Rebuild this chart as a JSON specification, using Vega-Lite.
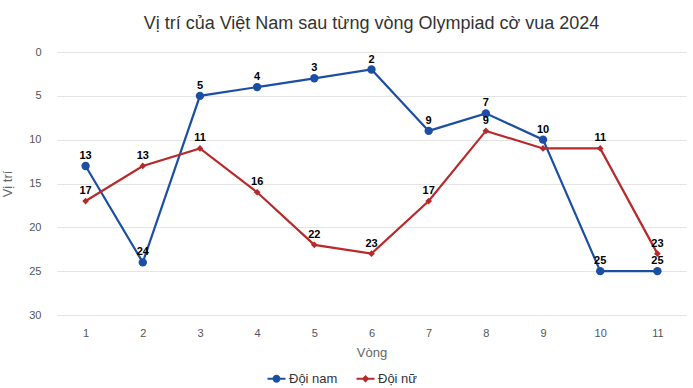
{
  "$schema": "https://vega.github.io/schema/vega-lite/v6.json",
  "width": 629,
  "height": 263,
  "autosize": {"type": "none"},
  "padding": {"left": 57, "top": 52, "right": 7, "bottom": 73},
  "background": "white",
  "config": {
    "font": "Liberation Sans",
    "view": {"stroke": null},
    "legend": {
      "orient": "none",
      "legendX": 213,
      "legendY": 320,
      "direction": "horizontal",
      "title": null,
      "labelFontSize": 13,
      "labelColor": "#333333",
      "labelOffset": 6,
      "symbolSize": 100,
      "symbolStrokeWidth": 0,
      "symbolOpacity": 1,
      "columnPadding": 18
    }
  },
  "title": {
    "text": "Vị trí của Việt Nam sau từng vòng Olympiad cờ vua 2024",
    "fontSize": 18,
    "fontWeight": "normal",
    "color": "#333333",
    "anchor": "middle",
    "offset": 13
  },
  "data": {
    "values": [
      {"vong": 1, "doi": "Đội nam", "vitri": 13},
      {"vong": 2, "doi": "Đội nam", "vitri": 24},
      {"vong": 3, "doi": "Đội nam", "vitri": 5},
      {"vong": 4, "doi": "Đội nam", "vitri": 4},
      {"vong": 5, "doi": "Đội nam", "vitri": 3},
      {"vong": 6, "doi": "Đội nam", "vitri": 2},
      {"vong": 7, "doi": "Đội nam", "vitri": 9},
      {"vong": 8, "doi": "Đội nam", "vitri": 7},
      {"vong": 9, "doi": "Đội nam", "vitri": 10},
      {"vong": 10, "doi": "Đội nam", "vitri": 25},
      {"vong": 11, "doi": "Đội nam", "vitri": 25},
      {"vong": 1, "doi": "Đội nữ", "vitri": 17},
      {"vong": 2, "doi": "Đội nữ", "vitri": 13},
      {"vong": 3, "doi": "Đội nữ", "vitri": 11},
      {"vong": 4, "doi": "Đội nữ", "vitri": 16},
      {"vong": 5, "doi": "Đội nữ", "vitri": 22},
      {"vong": 6, "doi": "Đội nữ", "vitri": 23},
      {"vong": 7, "doi": "Đội nữ", "vitri": 17},
      {"vong": 8, "doi": "Đội nữ", "vitri": 9},
      {"vong": 9, "doi": "Đội nữ", "vitri": 11},
      {"vong": 10, "doi": "Đội nữ", "vitri": 11},
      {"vong": 11, "doi": "Đội nữ", "vitri": 23}
    ]
  },
  "encoding": {
    "x": {
      "field": "vong",
      "type": "ordinal",
      "scale": {"type": "point", "padding": 0.5},
      "axis": {
        "title": "Vòng",
        "labelAngle": 0,
        "labelColor": "#555555",
        "labelFontSize": 11,
        "labelPadding": 12,
        "titleColor": "#666666",
        "titleFontSize": 13,
        "titleFontWeight": "normal",
        "titlePadding": 8,
        "domain": false,
        "ticks": false,
        "grid": false
      }
    },
    "y": {
      "field": "vitri",
      "type": "quantitative",
      "scale": {"domain": [0, 30], "reverse": true, "nice": false},
      "axis": {
        "title": "Vị trí",
        "values": [0, 5, 10, 15, 20, 25, 30],
        "labelColor": "#555555",
        "labelFontSize": 11,
        "labelPadding": 16,
        "titleColor": "#666666",
        "titleFontSize": 13,
        "titleFontWeight": "normal",
        "titlePadding": 14,
        "domain": false,
        "ticks": false,
        "gridColor": "#e4e4e4"
      }
    },
    "color": {
      "field": "doi",
      "type": "nominal",
      "title": null,
      "scale": {"domain": ["Đội nam", "Đội nữ"], "range": ["#1c4fa3", "#b8292b"]}
    }
  },
  "layer": [
    {
      "mark": {"type": "line", "strokeWidth": 2.2}
    },
    {
      "transform": [{"filter": "datum.doi == 'Đội nam'"}],
      "mark": {"type": "point", "filled": true, "opacity": 1, "shape": "circle", "size": 70}
    },
    {
      "transform": [{"filter": "datum.doi == 'Đội nữ'"}],
      "mark": {"type": "point", "filled": true, "opacity": 1, "shape": "diamond", "size": 45}
    },
    {
      "mark": {"type": "point", "filled": true, "opacity": 0},
      "encoding": {
        "shape": {
          "field": "doi",
          "type": "nominal",
          "title": null,
          "scale": {"domain": ["Đội nam", "Đội nữ"], "range": ["M-1.8,-0.2H1.8V0.2H-1.8Z M0.8,0A0.8,0.8 0 1,1 -0.8,0A0.8,0.8 0 1,1 0.8,0Z", "M-1.8,-0.2H1.8V0.2H-1.8Z M0,-0.75L0.75,0L0,0.75L-0.75,0Z"]}
        }
      }
    },
    {
      "transform": [{"filter": "!(datum.vong == 9 && datum.doi == 'Đội nữ')"}],
      "mark": {"type": "text", "dy": -10, "fontSize": 11, "fontWeight": "bold", "color": "black"},
      "encoding": {
        "text": {"field": "vitri", "type": "quantitative"},
        "color": {"value": "black"}
      }
    }
  ]
}
